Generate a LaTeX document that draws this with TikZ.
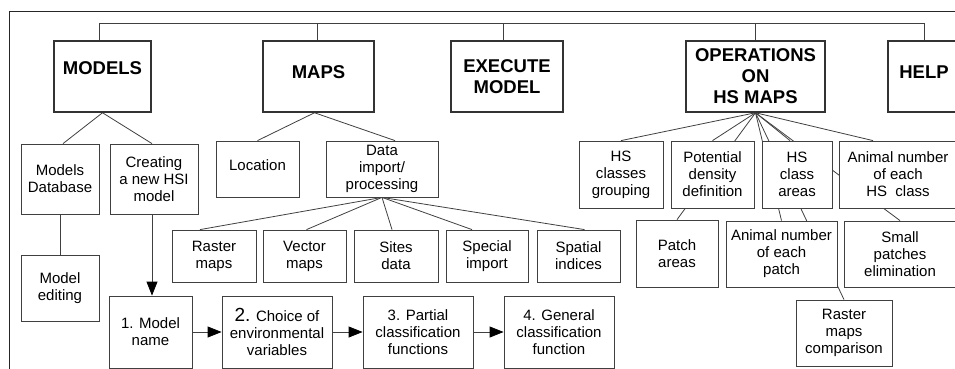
\documentclass[tikz,border=0pt]{standalone}
\usepackage{fontspec}
\setmainfont{Liberation Sans}
\usetikzlibrary{arrows.meta,backgrounds,calc}
\newcommand\liftup[2]{\raisebox{#1pt}[\height][\depth]{#2}}
\begin{document}
\begin{tikzpicture}[x=1pt,y=-1pt,
  mainbox/.style={draw=black!80, line width=1.5pt, fill=white, font=\fontsize{18.5}{21}\selectfont\bfseries, align=center, inner sep=0pt, minimum height=71pt},
  subbox/.style={draw=black!75, line width=0.8pt, fill=white, font=\fontsize{15}{17}\selectfont, align=center, inner sep=0pt},
  conn/.style={draw=black!75, line width=0.8pt},
  arr/.style={conn, -{Triangle[length=14pt,width=11pt,color=black]}},
  framelines/.style={draw=black!85, line width=0.9pt}]
\clip (0,0) rectangle (955,369);
% main boxes
\node[mainbox, minimum width=97pt] (models) at (102.5,76.5) {\liftup{8}{MODELS}};
\node[mainbox, minimum width=111pt] (maps) at (318.5,76.5) {\liftup{4}{MAPS}};
\node[mainbox, minimum width=112pt] (exec) at (507,76.5) {EXECUTE\\MODEL};
\node[mainbox, minimum width=139pt] (ops) at (755.5,76.5) {OPERATIONS\\ON\\HS MAPS};
\node[mainbox, minimum width=72pt] (help) at (924,76.5) {\liftup{4}{HELP}};
% models branch
\node[subbox, minimum width=78pt, minimum height=70pt] (mdb) at (60,179) {Models\\Database};
\node[subbox, minimum width=88pt, minimum height=70pt] (create) at (154,179) {Creating\\a new HSI\\model};
\node[subbox, minimum width=78pt, minimum height=66pt] (medit) at (60,288) {Model\\editing};
\node[subbox, minimum width=83pt, minimum height=72pt] (name) at (150.5,332) {1. Model\\name};
\node[subbox, minimum width=110pt, minimum height=72pt] (choice) at (277,332) {{\fontsize{19}{17}\selectfont 2.} Choice of\\environmental\\variables};
\node[subbox, minimum width=110pt, minimum height=72pt] (partial) at (418,332) {3. Partial\\classification\\functions};
\node[subbox, minimum width=110pt, minimum height=72pt] (general) at (559,332) {4. General\\classification\\function};
% maps branch
\node[subbox, minimum width=83pt, minimum height=56pt] (loc) at (257.5,169) {\liftup{4}{Location}};
\node[subbox, minimum width=112pt, minimum height=56pt] (data) at (382,169) {Data\\import/\\processing};
\node[subbox, minimum width=84pt, minimum height=52pt] (raster) at (214,256) {Raster\\maps};
\node[subbox, minimum width=83pt, minimum height=52pt] (vector) at (304.5,256) {Vector\\maps};
\node[subbox, minimum width=84pt, minimum height=52pt] (sites) at (396,256) {Sites\\data};
\node[subbox, minimum width=82pt, minimum height=52pt] (special) at (487,256) {Special\\import};
\node[subbox, minimum width=83pt, minimum height=52pt] (spatial) at (578.5,256) {Spatial\\indices};
% operations branch
\node[subbox, minimum width=84pt, minimum height=67pt] (hsgroup) at (621,174.5) {HS\\classes\\grouping};
\node[subbox, minimum width=83pt, minimum height=67pt] (potential) at (712.5,174.5) {Potential\\density\\definition};
\node[subbox, minimum width=70pt, minimum height=67pt] (hsareas) at (797,174.5) {HS\\class\\areas};
\node[subbox, minimum width=118pt, minimum height=67pt] (animalhs) at (898,174.5) {Animal number\\of each\\HS~~class};
\node[subbox, minimum width=82pt, minimum height=67pt] (patch) at (677,253.5) {Patch\\areas};
\node[subbox, minimum width=111pt, minimum height=66pt] (animalp) at (781.5,254) {Animal number\\of each\\patch};
\node[subbox, minimum width=112pt, minimum height=66pt] (small) at (900,254) {Small\\patches\\elimination};
\node[subbox, minimum width=96pt, minimum height=66pt] (rcomp) at (844,333) {Raster\\maps\\comparison};
% connectors behind the boxes
\coordinate (bus) at (0,23);
\begin{scope}[on background layer]
  \draw[framelines] (955,11) -| (9,369);
  \coordinate (mn) at ($(models.north)+(-3,0)$);
  \coordinate (pn) at ($(maps.north)+(-1.5,0)$);
  \coordinate (en) at ($(exec.north)+(-4,0)$);
  \coordinate (on) at (ops.north);
  \coordinate (hn) at (help.north);
  \draw[conn] (mn |- bus) -- (hn |- bus);
  \foreach \c in {mn,pn,en,on,hn} \draw[conn] (\c) -- (\c |- bus);
  % models
  \draw[conn] (models.south) -- ($(mdb.north)+(3,0)$);
  \draw[conn] (models.south) -- ($(create.north)+(-2,0)$);
  \draw[conn] (mdb.south) -- (medit.north);
  % maps
  \coordinate (ms) at ($(maps.south)+(-4,0)$);
  \draw[conn] (ms) -- (loc.north);
  \draw[conn] (ms) -- ($(data.north)+(13,0)$);
  \draw[conn] (data.south) -- ($(raster.north)+(-14,0)$);
  \draw[conn] (data.south) -- ($(vector.north)+(2,0)$);
  \draw[conn] (data.south) -- ($(sites.north)+(-4,0)$);
  \draw[conn] (data.south) -- ($(special.north)+(-15,0)$);
  \draw[conn] (data.south) -- ($(spatial.north)+(6,0)$);
  % operations
  \draw[conn] (ops.south) -- (hsgroup.north);
  \draw[conn] (ops.south) -- (potential.north);
  \draw[conn] (ops.south) -- (patch.north);
  \draw[conn] (ops.south) -- (animalp.north);
  \draw[conn] (ops.south) -- (rcomp.north);
  \draw[conn] (ops.south) -- ($(hsareas.north)+(-7,0)$);
  \draw[conn] (ops.south) -- (small.north);
  \draw[conn] (ops.south) -- ($(animalhs.north)+(-25,0)$);
\end{scope}
% arrows
\coordinate (cs) at ($(create.south)+(-2,0)$);
\draw[arr] (cs) -- (cs |- name.north);
\draw[arr] (name.east) -- (choice.west);
\draw[arr] (choice.east) -- (partial.west);
\draw[arr] (partial.east) -- (general.west);
\end{tikzpicture}
\end{document}
